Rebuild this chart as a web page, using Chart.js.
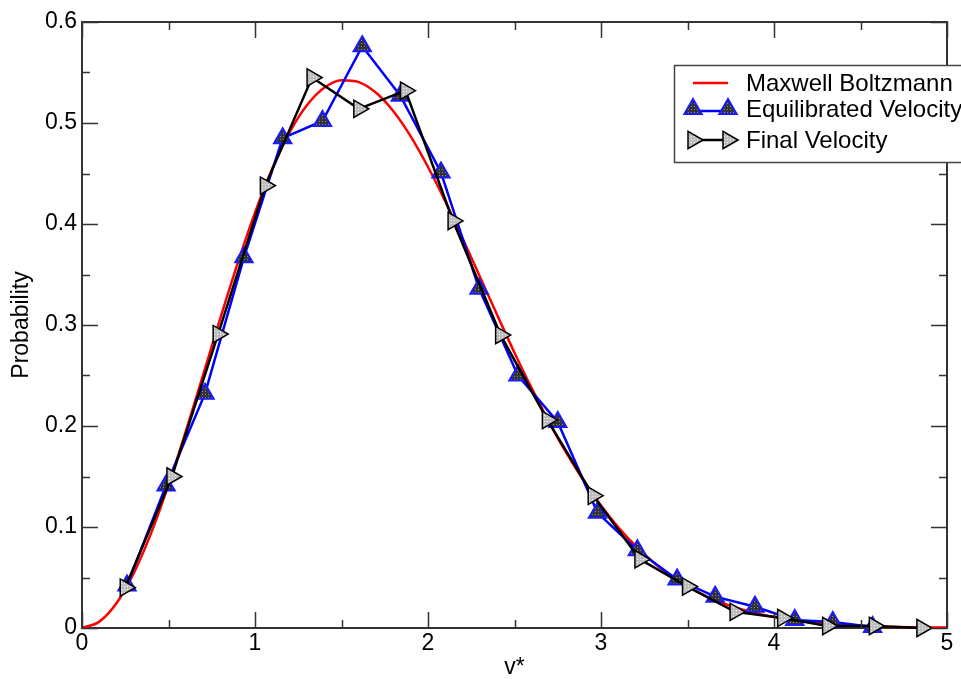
<!DOCTYPE html>
<html lang="en">
<head>
    <meta charset="UTF-8">
    <title>Maxwell Boltzmann - velocity distribution</title>
    <script src="https://cdn.jsdelivr.net/npm/chart.js"></script>
    <style>
        body, html {
            margin: 0;
            padding: 0;
            background: #fff;
            overflow: hidden;
        }
        #chartBox {
            width: 961px;
            height: 679px;
        }
    </style>
</head>
<body>
    <div id="chartBox">
        <canvas id="mbChart" width="961" height="679"></canvas>
    </div>

    <script>
        // Maxwell Boltzmann curve
        const mbX = [0, 0.1, 0.2, 0.3, 0.4, 0.5, 0.6, 0.7, 0.8, 0.9, 1.0, 1.1, 1.2, 1.3, 1.4, 1.5, 1.6, 1.7, 1.8, 1.9,
                     2.0, 2.1, 2.2, 2.3, 2.4, 2.5, 2.6, 2.7, 2.8, 2.9, 3.0, 3.1, 3.2, 3.3, 3.4, 3.5, 3.6, 3.7, 3.8, 3.9,
                     4.0, 4.2, 4.4, 4.6, 4.8, 5.0];
        const mbY = [0, 0.0063, 0.0248, 0.0546, 0.0942, 0.1417, 0.1946, 0.2506, 0.3070, 0.3613, 0.4113, 0.4549, 0.4907,
                     0.5175, 0.5348, 0.5424, 0.5405, 0.5299, 0.5116, 0.4867, 0.4564, 0.4224, 0.3857, 0.3478, 0.3098,
                     0.2726, 0.2372, 0.2039, 0.1733, 0.1458, 0.1212, 0.0997, 0.0812, 0.0654, 0.0521, 0.0411, 0.0321,
                     0.0249, 0.0190, 0.0144, 0.0108, 0.0059, 0.0031, 0.0016, 0.0008, 0.0004];

        // Equilibrated velocity histogram
        const eqX = [0.26, 0.486, 0.711, 0.936, 1.16, 1.39, 1.62, 1.84, 2.075, 2.295, 2.52, 2.75, 2.98, 3.21, 3.44,
                     3.66, 3.89, 4.12, 4.34, 4.57];
        const eqY = [0.042, 0.141, 0.232, 0.367, 0.485, 0.502, 0.576, 0.527, 0.451, 0.336, 0.25, 0.204, 0.114, 0.077,
                     0.048, 0.031, 0.021, 0.008, 0.006, 0.001];

        // Final velocity histogram
        const finX = [0.25, 0.52, 0.787, 1.06, 1.33, 1.60, 1.87, 2.145, 2.42, 2.69, 2.955, 3.225, 3.50, 3.775, 4.05,
                      4.31, 4.58, 4.855];
        const finY = [0.040, 0.150, 0.291, 0.438, 0.545, 0.514, 0.532, 0.403, 0.290, 0.206, 0.131, 0.068, 0.041,
                      0.016, 0.010, 0.002, 0.002, 0.0];

        const seriesNames = ['Maxwell Boltzmann', 'Equilibrated Velocity', 'Final Velocity'];
        const xTicks = [0, 1, 2, 3, 4, 5];
        const yTicks = [0, 0.1, 0.2, 0.3, 0.4, 0.5, 0.6];

        const FONT = '"Liberation Sans", Arial, Helvetica, sans-serif';

        function toPoints(xs, ys) {
            return xs.map((x, i) => ({ x: x, y: ys[i] }));
        }

        // speckled fills for the markers
        function makePattern(base, dot) {
            const c = document.createElement('canvas');
            c.width = 3;
            c.height = 3;
            const g = c.getContext('2d');
            g.fillStyle = base;
            g.fillRect(0, 0, 3, 3);
            g.fillStyle = dot;
            g.fillRect(1, 1, 1, 1);
            return g.createPattern(c, 'repeat');
        }
        const darkFill = makePattern('#333333', '#8c8c8c');
        const lightFill = makePattern('#bdbdbd', '#f2f2f2');

        function triangle(ctx, x, y, r, rotDeg) {
            let rad = rotDeg * Math.PI / 180;
            ctx.beginPath();
            for (let k = 0; k < 3; k++) {
                const px = x + Math.sin(rad) * r;
                const py = y - Math.cos(rad) * r;
                if (k === 0) ctx.moveTo(px, py); else ctx.lineTo(px, py);
                rad += 2 * Math.PI / 3;
            }
            ctx.closePath();
        }

        // frame on top / right + inward ticks on all four sides
        const framePlugin = {
            id: 'frame',
            afterDraw(chart) {
                const { ctx, chartArea: a, scales } = chart;
                ctx.save();
                ctx.strokeStyle = '#333';
                ctx.lineWidth = 2;
                ctx.beginPath();
                ctx.moveTo(a.left, a.top);
                ctx.lineTo(a.right, a.top);
                ctx.lineTo(a.right, a.bottom);
                ctx.stroke();

                ctx.lineWidth = 1.5;
                ctx.beginPath();
                for (let v = 0; v <= 5.001; v += 0.5) {
                    const px = Math.round(scales.x.getPixelForValue(v)) + 0.5;
                    const len = Math.abs(v - Math.round(v)) < 1e-6 ? 16 : 8;
                    ctx.moveTo(px, a.bottom);
                    ctx.lineTo(px, a.bottom - len);
                    ctx.moveTo(px, a.top);
                    ctx.lineTo(px, a.top + len);
                }
                for (let i = 0; i <= 12; i++) {
                    const v = i * 0.05;
                    const py = Math.round(scales.y.getPixelForValue(v)) + 0.5;
                    const len = i % 2 === 0 ? 16 : 8;
                    ctx.moveTo(a.left, py);
                    ctx.lineTo(a.left + len, py);
                    ctx.moveTo(a.right, py);
                    ctx.lineTo(a.right - len, py);
                }
                ctx.stroke();
                ctx.restore();
            }
        };

        // legend box in the upper right, running off the canvas edge
        const legendPlugin = {
            id: 'boxLegend',
            afterDraw(chart) {
                const ctx = chart.ctx;
                const ds = chart.data.datasets;
                ctx.save();
                ctx.fillStyle = '#fff';
                ctx.fillRect(674, 65, 320, 97);
                ctx.strokeStyle = '#444';
                ctx.lineWidth = 1.5;
                ctx.strokeRect(674.5, 65.5, 320, 97);

                const rowsY = [83, 109, 140];
                const x0 = 693, x1 = 728;
                ctx.lineWidth = 2.5;

                // red line
                ctx.strokeStyle = ds[0].borderColor;
                ctx.beginPath();
                ctx.moveTo(x0, rowsY[0]);
                ctx.lineTo(x1, rowsY[0]);
                ctx.stroke();

                // blue line + triangles
                ctx.strokeStyle = ds[1].borderColor;
                ctx.beginPath();
                ctx.moveTo(x0, rowsY[1] + 2);
                ctx.lineTo(x1, rowsY[1] + 2);
                ctx.stroke();
                [x0, x1].forEach(px => {
                    triangle(ctx, px, rowsY[1], 10, 0);
                    ctx.fillStyle = darkFill;
                    ctx.fill();
                    ctx.lineWidth = 2;
                    ctx.strokeStyle = ds[1].pointBorderColor;
                    ctx.stroke();
                });

                // black line + right triangles
                ctx.lineWidth = 2.5;
                ctx.strokeStyle = ds[2].borderColor;
                ctx.beginPath();
                ctx.moveTo(x0, rowsY[2]);
                ctx.lineTo(x1, rowsY[2]);
                ctx.stroke();
                [x0, x1].forEach(px => {
                    triangle(ctx, px, rowsY[2], 10, 90);
                    ctx.fillStyle = lightFill;
                    ctx.fill();
                    ctx.lineWidth = 1.5;
                    ctx.strokeStyle = ds[2].pointBorderColor;
                    ctx.stroke();
                });

                ctx.fillStyle = '#000';
                ctx.font = '24px ' + FONT;
                ctx.textAlign = 'left';
                ctx.textBaseline = 'middle';
                seriesNames.forEach((name, i) => {
                    ctx.fillText(name, 746, rowsY[i] + 1);
                });
                ctx.restore();
            }
        };

        const chartData = {
            datasets: [
                {
                    label: seriesNames[0],
                    data: toPoints(mbX, mbY),
                    borderColor: '#ff0000',
                    borderWidth: 2.5,
                    pointRadius: 0,
                    cubicInterpolationMode: 'monotone',
                    order: 3,
                    clip: false
                },
                {
                    label: seriesNames[1],
                    data: toPoints(eqX, eqY),
                    borderColor: '#0000ff',
                    borderWidth: 2.5,
                    pointStyle: 'triangle',
                    pointRadius: 10,
                    pointBackgroundColor: darkFill,
                    pointBorderColor: '#1a1aff',
                    pointBorderWidth: 2,
                    tension: 0,
                    order: 2,
                    clip: false
                },
                {
                    label: seriesNames[2],
                    data: toPoints(finX, finY),
                    borderColor: '#000000',
                    borderWidth: 2.5,
                    pointStyle: 'triangle',
                    pointRotation: 90,
                    pointRadius: 10,
                    pointBackgroundColor: lightFill,
                    pointBorderColor: '#000000',
                    pointBorderWidth: 1.5,
                    tension: 0,
                    order: 1,
                    clip: false
                }
            ]
        };

        const chartConfig = {
            type: 'line',
            data: chartData,
            options: {
                responsive: false,
                animation: false,
                devicePixelRatio: 1,
                layout: { padding: { left: 0, right: 14, top: 22, bottom: 0 } },
                plugins: {
                    legend: { display: false },
                    tooltip: { enabled: false }
                },
                scales: {
                    x: {
                        type: 'linear',
                        min: 0,
                        max: 5,
                        afterBuildTicks(scale) {
                            scale.ticks = xTicks.map(v => ({ value: v }));
                        },
                        afterFit(scale) { scale.height = 51; },
                        grid: { display: false, drawTicks: false },
                        border: { display: true, color: '#333', width: 2 },
                        ticks: {
                            color: '#000',
                            padding: 2,
                            maxRotation: 0,
                            font: { family: FONT, size: 23 },
                            callback: v => String(v)
                        },
                        title: {
                            display: true,
                            text: 'v*',
                            color: '#000',
                            padding: 0,
                            font: { family: FONT, size: 23, lineHeight: 1 }
                        }
                    },
                    y: {
                        type: 'linear',
                        min: 0,
                        max: 0.6,
                        afterBuildTicks(scale) {
                            scale.ticks = yTicks.map(v => ({ value: v }));
                        },
                        afterFit(scale) { scale.width = 82; },
                        grid: { display: false, drawTicks: false },
                        border: { display: true, color: '#333', width: 2 },
                        ticks: {
                            color: '#000',
                            padding: 5,
                            font: { family: FONT, size: 23 },
                            callback: v => (v === 0 ? '0' : v.toFixed(1))
                        },
                        title: {
                            display: true,
                            text: 'Probability',
                            color: '#000',
                            padding: { top: 8, bottom: 0 },
                            font: { family: FONT, size: 23 }
                        }
                    }
                }
            },
            plugins: [framePlugin, legendPlugin]
        };

        const mbChart = new Chart(document.getElementById('mbChart'), chartConfig);
    </script>
</body>
</html>
